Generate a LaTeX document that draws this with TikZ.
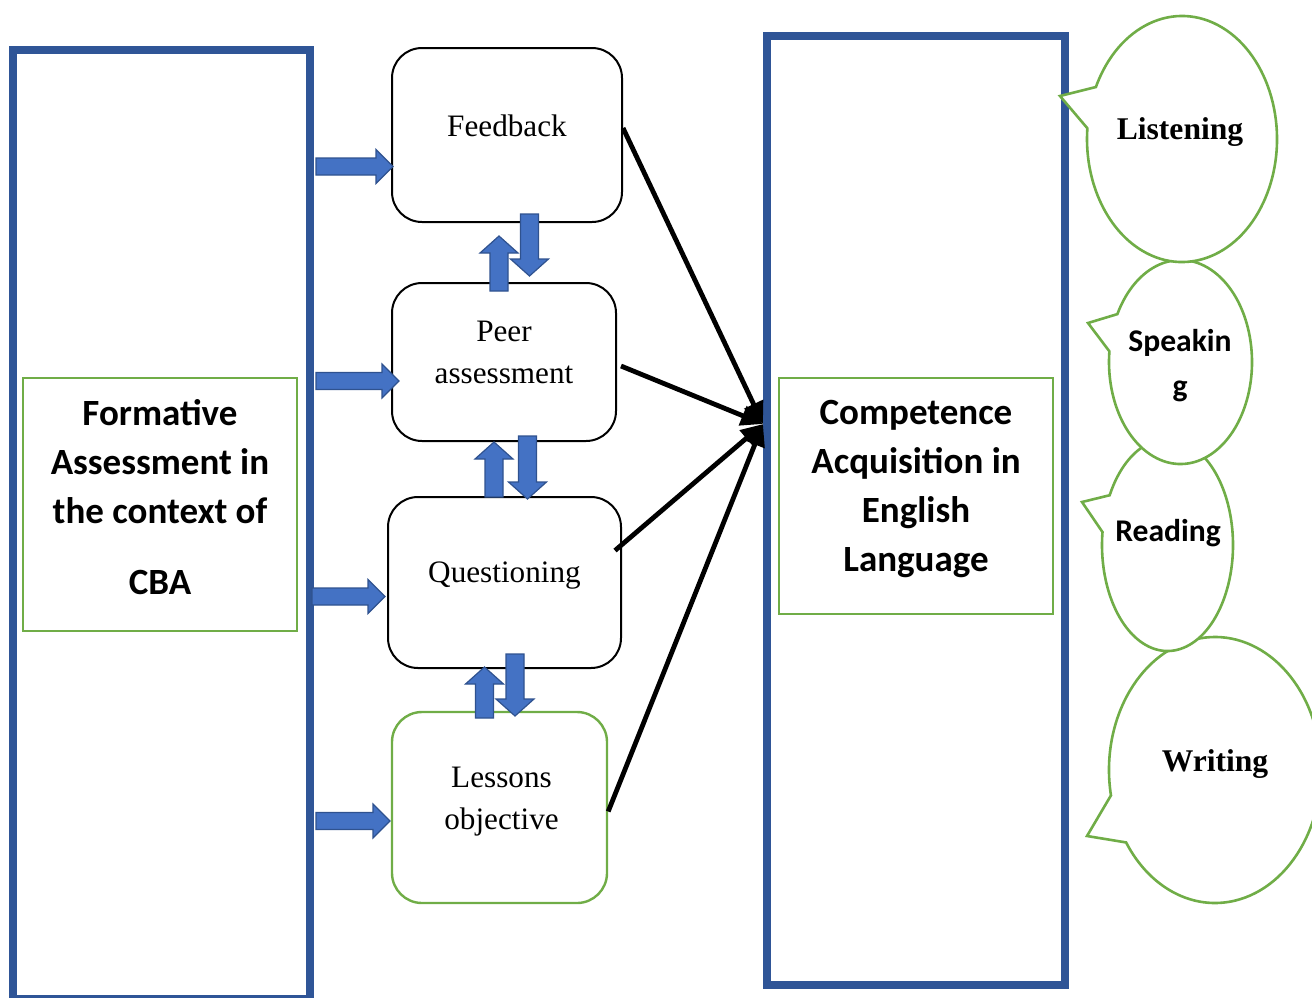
\documentclass[tikz,border=0pt]{standalone}
\usepackage{fontspec}
\setmainfont{Liberation Serif}
\newfontfamily\carlito{Carlito}
\usetikzlibrary{arrows.meta,calc}

\definecolor{frameblue}{HTML}{2F5597}
\definecolor{leafgreen}{HTML}{70AD47}
\definecolor{arrowfill}{HTML}{4472C4}
\definecolor{arrowedge}{HTML}{2F528F}

% block arrows (coordinates in px)
\newcommand\RightBlock[3]{% x start, x tip, y centre
  \filldraw[blockarrow] (#1,#3-8.5) -- (#2-17,#3-8.5) -- (#2-17,#3-17) -- (#2,#3)
    -- (#2-17,#3+17) -- (#2-17,#3+8.5) -- (#1,#3+8.5) -- cycle;}
\newcommand\UpBlock[3]{% x centre, y tip, y base
  \filldraw[blockarrow] (#1-9,#3) -- (#1-9,#2+17) -- (#1-19,#2+17) -- (#1,#2)
    -- (#1+19,#2+17) -- (#1+9,#2+17) -- (#1+9,#3) -- cycle;}
\newcommand\DownBlock[3]{% x centre, y top, y tip
  \filldraw[blockarrow] (#1-9,#2) -- (#1-9,#3-17) -- (#1-19,#3-17) -- (#1,#3)
    -- (#1+19,#3-17) -- (#1+9,#3-17) -- (#1+9,#2) -- cycle;}
% speech bubble: centre x, centre y, rx, ry, start angle, end angle, tip x, tip y
\newcommand\Bubble[8]{%
  \filldraw[bubble] ([shift={(#1,#2)}]#5:#3 and #4)
    arc[start angle=#5,end angle=#6,x radius=#3,y radius=#4] -- (#7,#8) -- cycle;}

\begin{document}
\begin{tikzpicture}[x=0.5pt,y=-0.5pt,
  frame/.style={draw=frameblue,line width=4pt},
  textbox/.style={draw=leafgreen,line width=1.2pt,inner sep=0pt},
  rbox/.style={draw=black,line width=1pt,rounded corners=15pt,inner sep=0pt},
  gbox/.style={draw=leafgreen,line width=1.2pt,rounded corners=15pt,inner sep=0pt},
  serif/.style={font=\fontsize{15.6}{21}\selectfont,align=center,inner sep=0pt},
  sanstext/.style={font=\carlito\bfseries\fontsize{18.5}{24.5}\selectfont,align=center,inner sep=0pt},
  bubbletext/.style={font=\fontsize{15.8}{22.5}\selectfont\bfseries,align=center,inner sep=0pt},
  bubblesans/.style={font=\carlito\bfseries\fontsize{15.8}{22.5}\selectfont,align=center,inner sep=0pt},
  blockarrow/.style={fill=arrowfill,draw=arrowedge,line width=0.6pt,line join=miter},
  bubble/.style={fill=white,draw=leafgreen,line width=1.3pt,line join=miter},
  link/.style={draw=black,line width=2.4pt,-{Triangle[length=11pt,width=10pt]}}]

\useasboundingbox (0,0) rectangle (1312,997);

% outer frames
\draw[frame] (13,50) rectangle (310,999);
\draw[frame] (767,36) rectangle (1065,985);

% green text boxes inside the frames
\node[textbox,minimum width=137pt,minimum height=126.5pt] (fbox) at (160,504.5) {};
\node[sanstext] (ftext) at (160,497) {Formative\\Assessment in\\the context of\\[11pt]CBA};
\node[textbox,minimum width=137pt,minimum height=118pt] (cbox) at (916,496) {};
\node[sanstext] (ctext) at (916,489) {Competence\\Acquisition in\\English\\Language};

% strategy boxes
\node[rbox,minimum width=115pt,minimum height=87pt] (fb) at (507,135) {};
\node[serif] at ([yshift=4.5pt]fb.center) {Feedback};
\node[rbox,minimum width=112pt,minimum height=79pt] (pa) at (504,362) {};
\node[serif] at ([yshift=5pt]pa.center) {Peer\\assessment};
\node[rbox,minimum width=116.5pt,minimum height=85.5pt] (qu) at (504.5,582.5) {};
\node[serif] at ([yshift=3.5pt]qu.center) {Questioning};
\node[gbox,minimum width=107.5pt,minimum height=95.5pt] (lo) at (499.5,807.5) {};
\node[serif] at ([shift={(1pt,3pt)}]lo.center) {Lessons\\objective};

% block arrows from the left frame
\RightBlock{316}{393}{166.5}
\RightBlock{316}{399}{381}
\RightBlock{312}{385}{596.5}
\RightBlock{316}{390}{821}

% two-way block arrows between the boxes
\UpBlock{499}{236}{291}
\DownBlock{529.5}{214}{276}
\UpBlock{494}{442}{497}
\DownBlock{527.5}{436}{499}
\UpBlock{484.5}{667}{718}
\DownBlock{515}{654}{716}

% links into the competence frame
\coordinate (hub) at (763,424);
\draw[link] ([yshift=3.5pt]fb.east) -- (hub);
\draw[link] ([shift={(2pt,-2pt)}]pa.east) -- (hub);
\draw[link] ([shift={(-3.5pt,16pt)}]qu.east) -- (hub);
\draw[link] ([yshift=-2pt]lo.east) -- (hub);

% skill bubbles, lowest first
\Bubble{1215}{770}{106}{133}{169}{507}{1087}{836}
\node[bubbletext] (wr) at (1215,764.5) {Writing};
\Bubble{1167.5}{545}{65.5}{106}{208}{547}{1082}{502}
\node[bubblesans] (rd) at (1168,533) {Reading};
\Bubble{1180.5}{362}{71.5}{102}{208}{546}{1088}{323}
\node[bubblesans] (sp) at (1180,366) {Speakin\\g};
\Bubble{1182}{139}{95}{123}{205}{545}{1060}{96}
\node[bubbletext] (li) at (1180,132) {Listening};

\end{tikzpicture}
\end{document}
